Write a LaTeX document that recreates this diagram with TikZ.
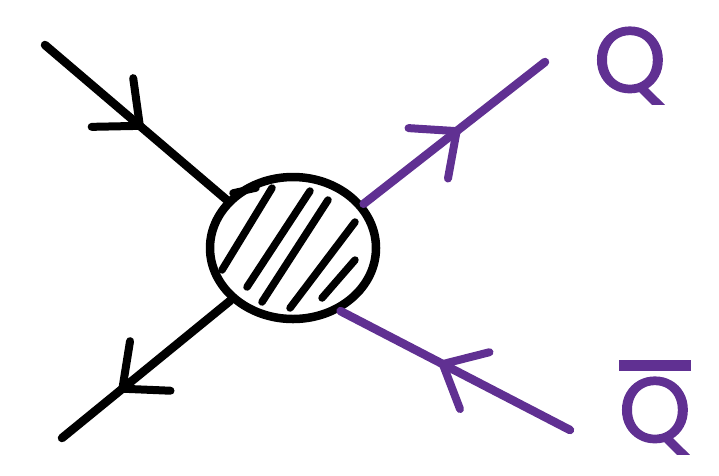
\documentclass[tikz,border=0pt]{standalone}
\usepackage{fontspec}
\newfontfamily\qfont[FakeBold=1.6]{Poppins}
\usetikzlibrary{arrows.meta,decorations.markings,shapes.geometric}
\definecolor{qpurple}{RGB}{96,48,146}
\newcommand{\barQ}{\setbox0\hbox{Q}\dp0=0pt\vbox{\hrule width\wd0 height 11pt\kern 6pt\box0}}
\begin{document}
\begin{tikzpicture}[x=1pt,y=-1pt,
  leg/.style={line width=8.5pt,line cap=round},
  barb/.style={postaction={decorate,decoration={markings,
     mark=at position #1 with {\arrow[line width=8pt]{Straight Barb[length=36pt,width=64pt,round]}}}}},
  hatch/.style={line width=7.5pt,line cap=round},
  lab/.style={text=qpurple,font=\qfont\fontsize{92}{92}\selectfont,inner sep=0pt,anchor=base}]
\useasboundingbox (0,0) rectangle (719,475);
\node[ellipse,draw,line width=8.5pt,minimum width=166pt,minimum height=142pt] (blob) at (293,248) {};
% hatching
\draw[hatch] (233,193) -- (256,188);
\draw[hatch] (272,188) -- (222,270);
\draw[hatch] (310,191) -- (247,287);
\draw[hatch] (328,200) -- (262,302);
\draw[hatch] (355,222) -- (290,308);
\draw[hatch] (355,260) -- (322,298);
% end points
\coordinate (tl) at (45,45);
\coordinate (bl) at (62,438);
\coordinate (tr) at (545,62);
\coordinate (br) at (570,430);
\draw[leg,barb=0.54] (tl) -- (blob.144);
\draw[leg,barb=0.66] (blob.220) -- (bl);
\draw[leg,qpurple,barb=0.53] (blob.32) -- (tr);
\draw[leg,qpurple,barb=0.57] (br) -- (blob.-53);
\node[lab] (q) at (630,92) {Q};
\node[lab] (qbar) at (655,442) {\barQ};
\end{tikzpicture}
\end{document}
